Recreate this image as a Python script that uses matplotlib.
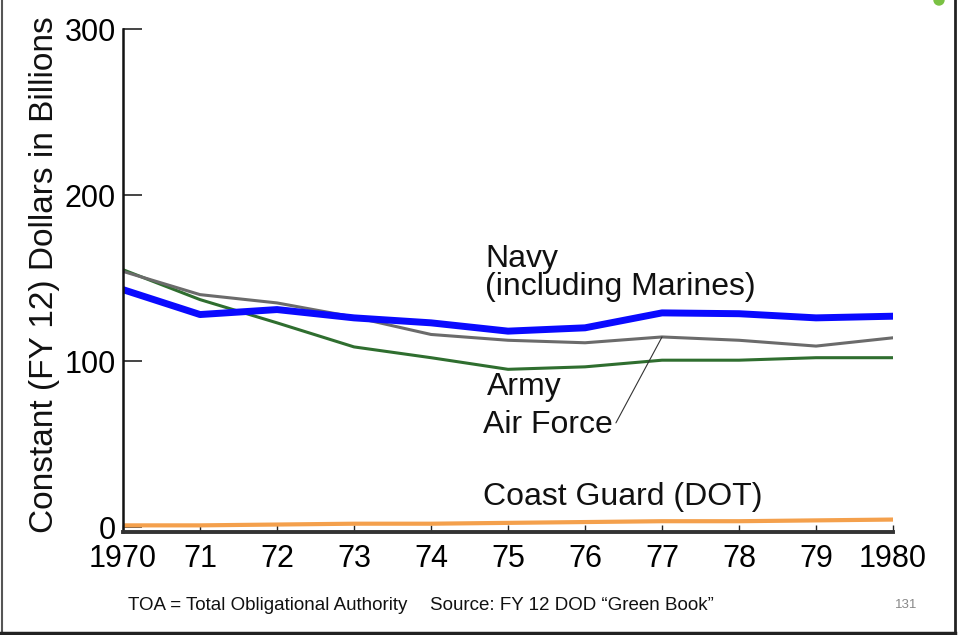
import numpy as np
import matplotlib
matplotlib.use("Agg")
import matplotlib.pyplot as plt
from matplotlib.lines import Line2D
from matplotlib.patches import Ellipse

# data (constant FY12 dollars, billions)
years = [1970, 1971, 1972, 1973, 1974, 1975, 1976, 1977, 1978, 1979, 1980]
year_labels = ["1970", "71", "72", "73", "74", "75", "76", "77", "78", "79", "1980"]
navy = [143, 128, 131, 126, 123, 118, 120, 129, 128.5, 126, 127]
air_force = [154, 140, 135, 126.5, 116, 112.5, 111, 114.5, 112.5, 109, 114]
army = [155, 137, 123, 108.5, 102, 95, 96.5, 100.5, 100.5, 102, 102]
coast_guard = [1, 1, 1.5, 2, 2, 2.5, 3, 3.5, 3.5, 4, 4.5]
y_ticks = [0, 100, 200, 300]

plt.rcParams['font.family'] = ['Liberation Sans', 'DejaVu Sans']

fig = plt.figure(figsize=(9.58, 6.35), dpi=100)
ax = fig.add_axes([0.1284, 0.1622, 0.8038, 0.7921])

ax.plot(years, army, color="#2f6e2f", linewidth=2.2, solid_capstyle="round")
ax.plot(years, air_force, color="#6b6b6b", linewidth=2.2, solid_capstyle="round")
ax.plot(years, navy, color="#0a0aff", linewidth=5, solid_capstyle="round")
ax.plot(years, coast_guard, color="#f4a04c", linewidth=3, solid_capstyle="round")

ax.set_xlim(1970, 1980)
ax.set_ylim(-3, 300)
ax.set_xticks(years)
ax.set_xticklabels(year_labels)
ax.set_yticks(y_ticks)

for side in ["top", "right"]:
    ax.spines[side].set_visible(False)
ax.spines["left"].set_linewidth(1.8)
ax.spines["left"].set_color("#111111")
ax.spines["bottom"].set_linewidth(2.8)
ax.spines["bottom"].set_color("#333333")

ax.tick_params(axis="y", direction="in", length=14, width=1.4, color="#444444",
               labelsize=22, pad=5)
ax.tick_params(axis="x", direction="in", length=5, width=1.0, color="#222222",
               labelsize=22, pad=8.5)

# line labels
lab = dict(fontsize=23, color="#111111", va="baseline", ha="left")
ax.text(1974.70, 156.6, "Navy", **lab)
ax.text(1974.70, 139.8, "(including Marines)", **lab)
ax.text(1974.72, 79.5, "Army", **lab)
ax.annotate("Air Force", xy=(1977, air_force[7]), xytext=(1974.68, 56.6),
            textcoords="data", fontsize=23, color="#111111",
            va="baseline", ha="left",
            arrowprops=dict(arrowstyle="-", color="#333333", lw=0.8,
                            shrinkA=0, shrinkB=0, relpos=(1.0, 0.4)))
ax.text(1974.68, 13.3, "Coast Guard (DOT)", **lab)

fig.text(45 / 958, 0.567, "Constant (FY 12) Dollars in Billions", rotation=90,
         fontsize=24, ha="center", va="center", color="#111111")

# footer
fig.text(128 / 958, 1 - 606 / 635, "TOA = Total Obligational Authority",
         fontsize=13.5, ha="left", va="center", color="#111111")
fig.text(430 / 958, 1 - 606 / 635, "Source: FY 12 DOD \u201cGreen Book\u201d",
         fontsize=13.5, ha="left", va="center", color="#111111")
fig.text(906 / 958, 1 - 605 / 635, "131", fontsize=9.5, ha="center", va="center",
         color="#888888")

# slide frame and the small green dot
fig.add_artist(Line2D([1.5 / 958, 1.5 / 958], [0, 1], color="#555555", lw=1.5))
fig.add_artist(Line2D([955 / 958, 955 / 958], [0, 1], color="#222222", lw=2))
fig.add_artist(Line2D([0, 955 / 958], [2 / 635, 2 / 635], color="#222222", lw=2.5))
fig.add_artist(Ellipse((939 / 958, 1.0), 10 / 958, 10 / 635, color="#7ac143"))

fig.savefig("out.png", dpi=100)
